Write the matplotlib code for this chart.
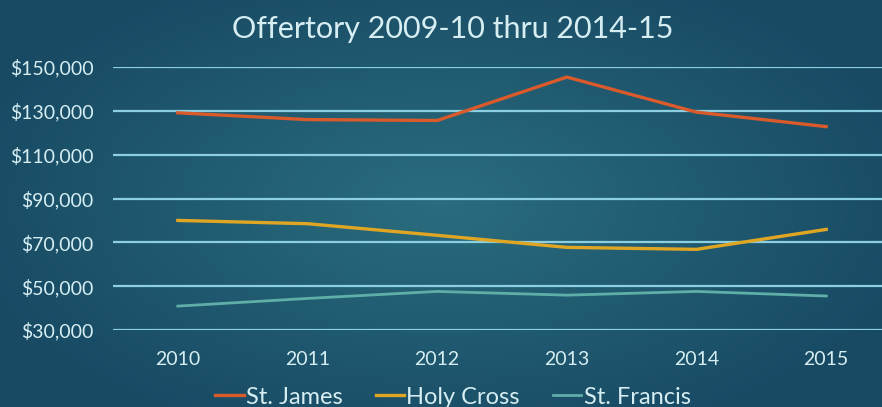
import numpy as np
import matplotlib
matplotlib.use("Agg")
import matplotlib.pyplot as plt
from matplotlib.ticker import FuncFormatter

# data
years = [2010, 2011, 2012, 2013, 2014, 2015]
st_james = [129100, 126000, 125600, 145400, 129400, 122800]
holy_cross = [80000, 78500, 73200, 67700, 66800, 75900]
st_francis = [40900, 44400, 47600, 45900, 47600, 45500]
y_ticks = [30000, 50000, 70000, 90000, 110000, 130000, 150000]

plt.rcParams['font.family'] = ['Lato', 'DejaVu Sans']
txt = '#d6eef2'
grid_c = '#8ccfe0'

fig = plt.figure(figsize=(8.82, 4.07), dpi=100)

# background gradient
bg = fig.add_axes([0, 0, 1, 1])
xx, yy = np.meshgrid(np.linspace(-1, 1, 300), np.linspace(-1, 1, 150))
r = np.sqrt((xx * 0.9) ** 2 + (yy * 0.8) ** 2)
r = np.clip(r, 0, 1)
c_in = np.array([0x2a, 0x6d, 0x7e]) / 255
c_out = np.array([0x18, 0x4a, 0x64]) / 255
img = c_in[None, None, :] * (1 - r[..., None]) + c_out[None, None, :] * r[..., None]
bg.imshow(img, aspect='auto', extent=[0, 1, 0, 1])
bg.axis('off')

ax = fig.add_axes([113 / 882, 1 - 330 / 407, 1 - 113 / 882, (330 - 67) / 407])
ax.patch.set_alpha(0)
ax.plot(years, st_james, color='#d95a2b', lw=2.4, label='St. James')
ax.plot(years, holy_cross, color='#dfa623', lw=2.4, label='Holy Cross')
ax.plot(years, st_francis, color='#5faea8', lw=2.0, label='St. Francis')

ax.set_xlim(2009.5, 2015.43)
ax.set_ylim(30000, 150000)
ax.set_yticks(y_ticks)
ax.set_xticks(years)
ax.yaxis.set_major_formatter(FuncFormatter(lambda v, p: '${:,.0f}'.format(v)))
ax.grid(axis='y', color=grid_c, lw=1.6)
ax.set_axisbelow(True)
for s in ax.spines.values():
    s.set_visible(False)
ax.tick_params(length=0, colors=txt, labelsize=14)
ax.tick_params(axis='x', pad=15)
ax.tick_params(axis='y', pad=14)

fig.text(453 / 882, 1 - 29 / 407, 'Offertory 2009-10 thru 2014-15', color=txt,
         fontsize=22, ha='center', va='center')

fig.legend(loc='center', bbox_to_anchor=(453 / 882, 1 - 397 / 407), ncol=3,
           frameon=False, fontsize=17, labelcolor=txt, handlelength=1.2,
           handletextpad=0.1, columnspacing=1.4)

fig.savefig('out.png', dpi=100)
